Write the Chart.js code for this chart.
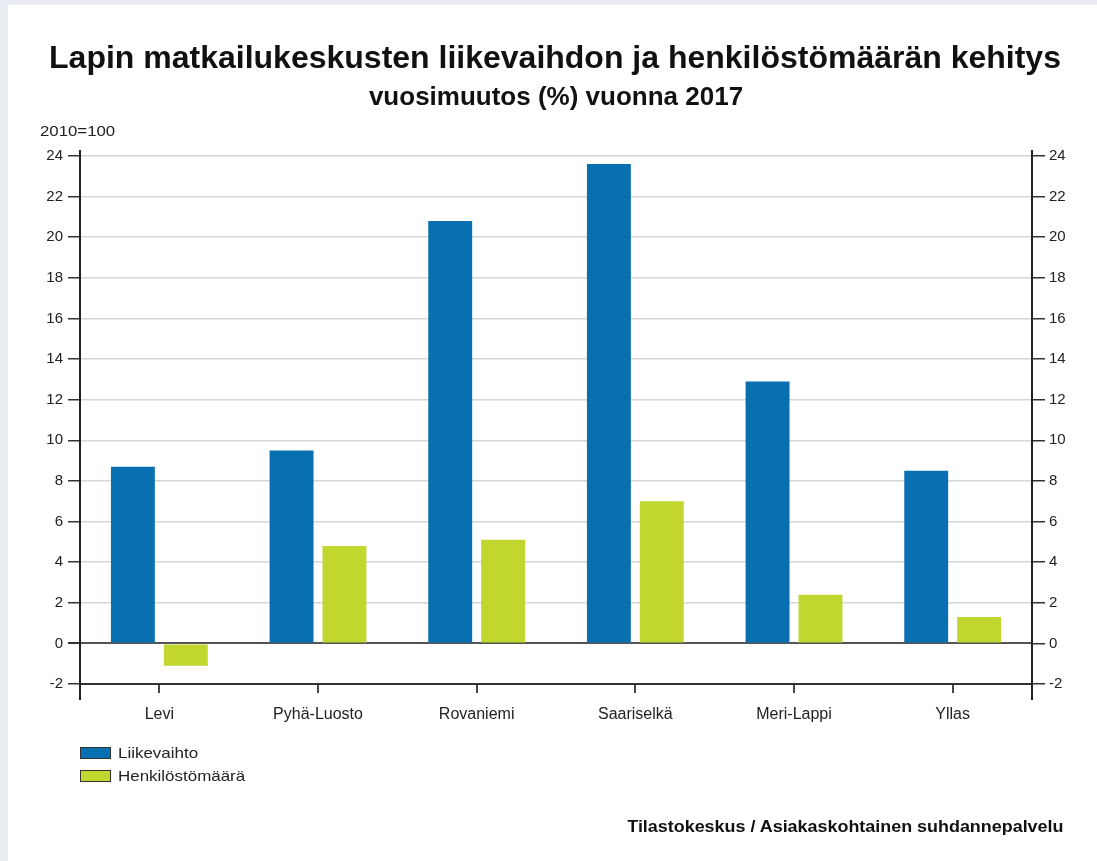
<!DOCTYPE html>
<html>
<head>
<meta charset="utf-8">
<script src="https://cdn.jsdelivr.net/npm/chart.js@4.4.1/dist/chart.umd.min.js"></script>
<style>
  html, body { margin: 0; padding: 0; }
  body { width: 1097px; height: 861px; overflow: hidden; background: #e9edf1; position: relative; font-family: "Liberation Sans", Arial, sans-serif; }
  #panel { position: absolute; left: 8px; top: 5px; width: 1089px; height: 856px; background: #fff; }
  #chart { position: absolute; left: 0; top: 0; }
  .txt { position: absolute; white-space: nowrap; color: #111; }
  #title { left: 0; width: 1094px; top: 34px; text-align: center; font-size: 32px; font-weight: bold; }
  #subtitle { left: 0; width: 1096px; top: 76px; text-align: center; font-size: 26px; font-weight: bold; }
  #base { left: 32px; top: 118px; font-size: 14px; color: #222; transform: scaleX(1.2); transform-origin: left center; }
  #legend { position: absolute; left: 72px; top: 739px; }
  .item { height: 23px; font-size: 15px; color: #222; display: flex; align-items: flex-start; }
  .box { width: 29px; height: 10px; border: 1px solid #333; margin-right: 7px; margin-top: 3px; }
  .lbl { display: inline-block; transform: scaleX(1.13); transform-origin: left center; }
  #source { right: 34px; top: 813px; font-size: 16px; font-weight: bold; transform: scaleX(1.12); transform-origin: right center; }
</style>
</head>
<body>
<div id="panel">
  <canvas id="chart" width="1089" height="856"></canvas>
  <div class="txt" id="title">Lapin matkailukeskusten liikevaihdon ja henkilöstömäärän kehitys</div>
  <div class="txt" id="subtitle">vuosimuutos (%) vuonna 2017</div>
  <div class="txt" id="base">2010=100</div>
  <div id="legend"></div>
  <div class="txt" id="source">Tilastokeskus / Asiakaskohtainen suhdannepalvelu</div>
</div>
<script>
// Data
const categories = ['Levi', 'Pyhä-Luosto', 'Rovaniemi', 'Saariselkä', 'Meri-Lappi', 'Yllas'];
const seriesNames = ['Liikevaihto', 'Henkilöstömäärä'];
const liikevaihto = [8.7, 9.5, 20.8, 23.6, 12.9, 8.5];
const henkilostomaara = [-1.1, 4.8, 5.1, 7.0, 2.4, 1.3];
const seriesColors = ['#0870b0', '#c1d62f'];

// Legend (html)
seriesNames.forEach((name, i) => {
  const item = document.createElement('div');
  item.className = 'item';
  item.innerHTML = '<span class="box" style="background:' + seriesColors[i] + '"></span><span class="lbl">' + name + '</span>';
  document.getElementById('legend').appendChild(item);
});

// Pidentää pystyakseleita vähän yli piirtoalueen
const axisLines = {
  id: 'axisLines',
  afterDraw(chart) {
    const { ctx, chartArea } = chart;
    ctx.save();
    ctx.strokeStyle = '#222';
    ctx.lineWidth = 2;
    [chartArea.left, chartArea.right].forEach(x => {
      ctx.beginPath();
      ctx.moveTo(x, chartArea.top - 6);
      ctx.lineTo(x, chartArea.bottom + 16);
      ctx.stroke();
    });
    ctx.restore();
  }
};

const tickFont = { family: 'Liberation Sans, Arial, sans-serif', size: 15 };

const chart = new Chart(document.getElementById('chart').getContext('2d'), {
  type: 'bar',
  data: {
    labels: categories,
    datasets: [
      { label: seriesNames[0], data: liikevaihto, backgroundColor: seriesColors[0], yAxisID: 'y' },
      { label: seriesNames[1], data: henkilostomaara, backgroundColor: seriesColors[1], yAxisID: 'y' }
    ]
  },
  options: {
    responsive: false,
    animation: false,
    categoryPercentage: 0.667,
    barPercentage: 0.83,
    layout: { padding: { top: 151, left: 0, right: 0, bottom: 137 } },
    plugins: {
      legend: { display: false },
      title: { display: false },
      tooltip: { enabled: false }
    },
    scales: {
      x: {
        grid: { display: true, drawOnChartArea: false, drawTicks: true, tickLength: 9, tickColor: '#444', offset: false, lineWidth: 2 },
        border: { display: true, color: '#333', width: 2 },
        ticks: { color: '#222', font: { family: 'Liberation Sans, Arial, sans-serif', size: 16 }, padding: 12 },
        afterFit(scale) { scale.height = 40; }
      },
      y: {
        position: 'left',
        min: -2,
        max: 24,
        ticks: { stepSize: 2, color: '#222', font: tickFont, padding: 5 },
        grid: {
          color: ctx => ctx.tick && ctx.tick.value === 0 ? '#555' : '#d6d6d6',
          lineWidth: ctx => ctx.tick && ctx.tick.value === 0 ? 2 : 1.5,
          tickColor: '#333',
          tickLength: 12
        },
        border: { display: false },
        afterFit(scale) { scale.width = 72; }
      },
      y2: {
        position: 'right',
        min: -2,
        max: 24,
        ticks: { stepSize: 2, color: '#222', font: tickFont, padding: 4 },
        grid: { drawOnChartArea: false, drawTicks: true, tickColor: '#333', tickLength: 13, lineWidth: 1.5 },
        border: { display: false },
        afterFit(scale) { scale.width = 65; }
      }
    }
  },
  plugins: [axisLines]
});
</script>
</body>
</html>
